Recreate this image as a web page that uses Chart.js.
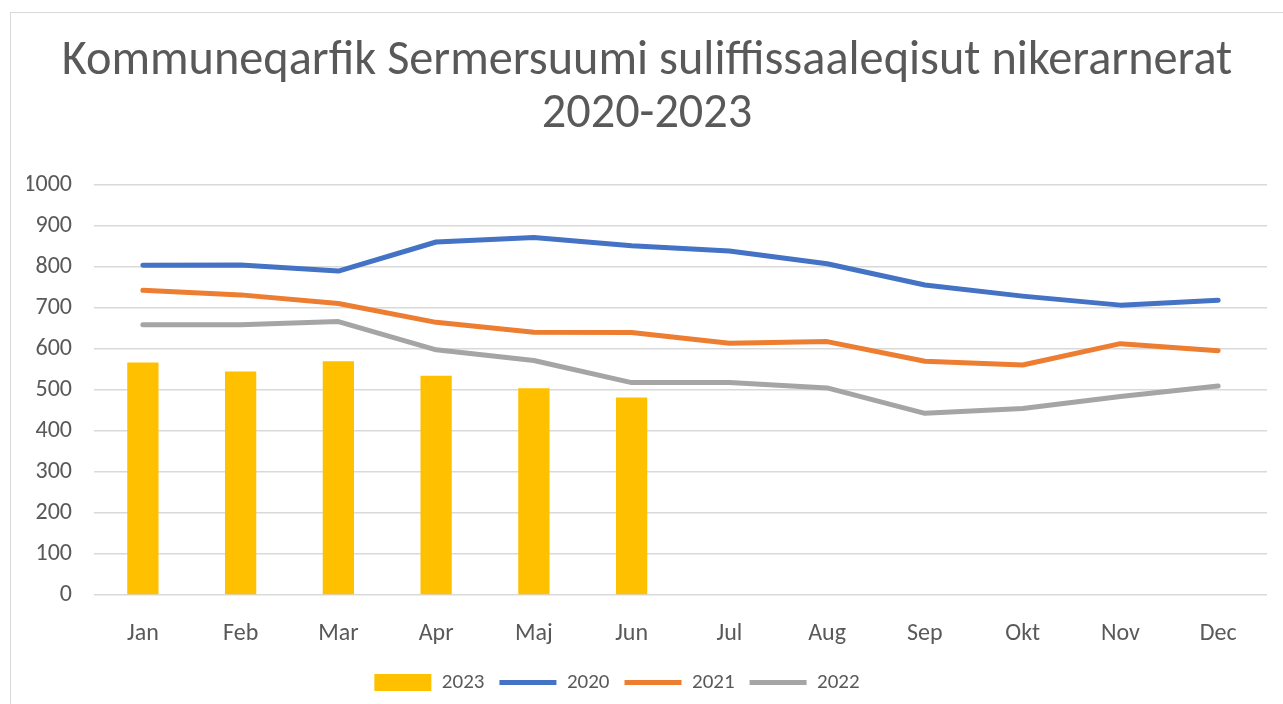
<!DOCTYPE html>
<html>
<head>
<meta charset="utf-8">
<script src="https://cdn.jsdelivr.net/npm/chart.js@4/dist/chart.umd.min.js"></script>
<style>
  html, body { margin: 0; padding: 0; background: #fff; overflow: hidden; }
  #ramme { position: absolute; left: 10px; top: 12px; width: 1320px; height: 740px; border: 1px solid #d9d9d9; }
  #wrap { position: absolute; left: 0; top: 0; width: 1283px; height: 704px; }
</style>
</head>
<body>
<div id="ramme"></div>
<div id="wrap"><canvas id="grafico" width="1283" height="704"></canvas></div>
<script>
const qaammatit = ["Jan", "Feb", "Mar", "Apr", "Maj", "Jun", "Jul", "Aug", "Sep", "Okt", "Nov", "Dec"];
const ukioq2020 = [804, 805, 790, 861, 872, 852, 839, 808, 756, 729, 707, 719];
const ukioq2021 = [743, 732, 711, 665, 641, 640, 614, 618, 570, 561, 613, 596];
const ukioq2022 = [659, 659, 667, 598, 572, 518, 518, 505, 443, 455, 484, 510];
const ukioq2023 = [567, 545, 570, 535, 504, 482];
const yTicks = [0, 100, 200, 300, 400, 500, 600, 700, 800, 900, 1000];

const tekst = "#595959";
const skrift = "Carlito, Calibri, Lato, sans-serif";

function linje(label, data, farve) {
    return {
        type: 'line',
        label,
        data,
        borderColor: farve,
        backgroundColor: farve,
        borderWidth: 5,
        borderCapStyle: 'round',
        borderJoinStyle: 'round',
        pointRadius: 0,
        tension: 0
    };
}

// legenden sidder lidt til venstre for midten i originalen
const flytLegende = {
    id: 'flytLegende',
    afterLayout: chart => {
        chart.legend.left -= 30;
        chart.legend.right -= 30;
    }
};

const ctx = document.getElementById('grafico').getContext('2d');
new Chart(ctx, {
    data: {
        labels: qaammatit,
        datasets: [
            {
                type: 'bar',
                label: '2023',
                data: ukioq2023,
                backgroundColor: '#FFC000',
                barPercentage: 1,
                categoryPercentage: 0.32
            },
            linje('2020', ukioq2020, '#4472C4'),
            linje('2021', ukioq2021, '#ED7D31'),
            linje('2022', ukioq2022, '#A5A5A5')
        ]
    },
    plugins: [flytLegende],
    options: {
        responsive: false,
        animation: false,
        layout: { padding: { top: 8, left: 27, right: 16, bottom: 1 } },
        plugins: {
            title: {
                display: true,
                text: ["Kommuneqarfik Sermersuumi suliffissaaleqisut nikerarnerat", "2020-2023"],
                color: tekst,
                font: { family: skrift, size: 48.3, weight: 'normal', lineHeight: 53 / 48.3 },
                padding: { top: 27, bottom: 44 }
            },
            legend: {
                position: 'bottom',
                labels: {
                    color: tekst,
                    font: { family: skrift, size: 21 },
                    usePointStyle: true,
                    pointStyleWidth: 57,
                    boxHeight: 17,
                    padding: 15,
                    generateLabels: chart => {
                        const items = Chart.defaults.plugins.legend.labels.generateLabels(chart);
                        items.forEach((it, i) => {
                            it.pointStyle = i === 0 ? 'rect' : 'line';
                        });
                        return items;
                    }
                }
            },
            tooltip: { enabled: false }
        },
        scales: {
            x: {
                offset: true,
                afterFit: s => { s.height = 62; },
                grid: { display: false, drawTicks: false },
                border: { display: false },
                ticks: { color: tekst, font: { family: skrift, size: 24 }, padding: 25 }
            },
            y: {
                min: 0,
                max: 1000,
                afterFit: s => { s.width = 67; },
                afterBuildTicks: s => { s.ticks = yTicks.map(v => ({ value: v })); },
                grid: { color: '#d9d9d9', lineWidth: 1.5, drawTicks: false },
                border: { display: false },
                ticks: {
                    color: tekst,
                    font: { family: skrift, size: 24 },
                    padding: 22,
                    callback: v => String(v)
                }
            }
        }
    }
});
</script>
</body>
</html>
